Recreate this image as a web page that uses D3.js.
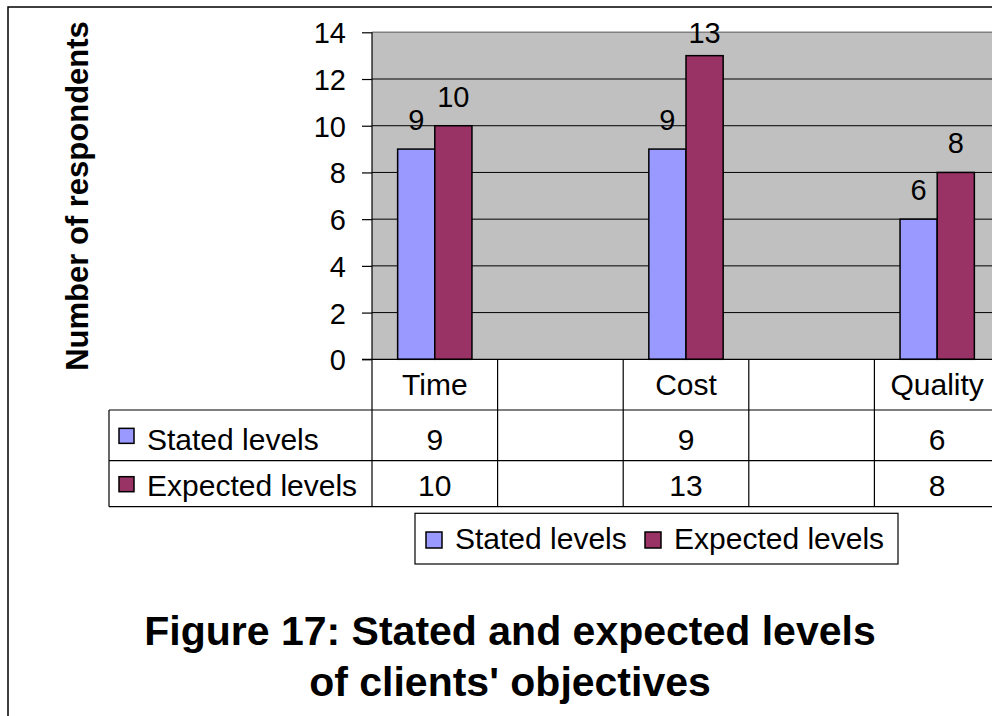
<!DOCTYPE html>
<html>
<head>
<meta charset="utf-8">
<script src="https://cdn.jsdelivr.net/npm/d3@7"></script>
<style>
  html, body { margin: 0; padding: 0; background: #fff; overflow: hidden; }
  svg { display: block; }
  text { font-family: "Liberation Sans", Arial, Helvetica, sans-serif; fill: #000; }
</style>
</head>
<body>
<svg id="chart" width="992" height="716"></svg>
<script>
// Survey counts per objective (blank slots are empty spacer columns)
const categories = ["Time", "", "Cost", "", "Quality"];
const statedLevels = [9, null, 9, null, 6];
const expectedLevels = [10, null, 13, null, 8];
const seriesNames = ["Stated levels", "Expected levels"];
const seriesColors = ["#9999FF", "#993366"];
const yTickValues = [0, 2, 4, 6, 8, 10, 12, 14];
const yAxisTitle = "Number of respondents";
const titleLines = ["Figure 17: Stated and expected levels", "of clients' objectives"];

const series = [statedLevels, expectedLevels];

const svg = d3.select("#chart");

// Outer chart frame (runs past the right and bottom edges)
svg.append("rect")
  .attr("x", 8).attr("y", 7)
  .attr("width", 1200).attr("height", 900)
  .attr("fill", "#fff").attr("stroke", "#000").attr("stroke-width", 1.5);

const plot = { left: 372, top: 32.3, bottom: 359.3, colW: 125.6 };
const plotRight = plot.left + plot.colW * categories.length;

const x = d3.scaleBand()
  .domain(d3.range(categories.length))
  .range([plot.left, plotRight])
  .paddingInner(0).paddingOuter(0);

const xInner = d3.scaleBand()
  .domain(d3.range(series.length))
  .range([0, x.bandwidth()])
  .paddingInner(0).paddingOuter(0.69);

const y = d3.scaleLinear().domain([0, 14]).range([plot.bottom, plot.top]);

// Plot background
svg.append("rect")
  .attr("x", plot.left).attr("y", y(14))
  .attr("width", plotRight - plot.left).attr("height", y(0) - y(14))
  .attr("fill", "#C0C0C0");

// Top border of the plot area
svg.append("line")
  .attr("x1", plot.left).attr("x2", plotRight)
  .attr("y1", y(14)).attr("y2", y(14))
  .attr("stroke", "#808080").attr("stroke-width", 1.5);

// Horizontal gridlines
svg.append("g").selectAll("line")
  .data(yTickValues.filter(v => v > 0 && v < 14))
  .join("line")
  .attr("x1", plot.left).attr("x2", plotRight)
  .attr("y1", d => y(d)).attr("y2", d => y(d))
  .attr("stroke", "#000").attr("stroke-width", 1);

// Bars
const groups = svg.append("g").selectAll("g")
  .data(categories.map((c, i) => i))
  .join("g")
  .attr("transform", i => `translate(${x(i)},0)`);

groups.selectAll("rect")
  .data(i => series.map((s, k) => ({ k, v: s[i] })).filter(d => d.v != null))
  .join("rect")
  .attr("x", d => xInner(d.k))
  .attr("y", d => y(d.v))
  .attr("width", xInner.bandwidth())
  .attr("height", d => y(0) - y(d.v))
  .attr("fill", d => seriesColors[d.k])
  .attr("stroke", "#000").attr("stroke-width", 1.5);

// Value labels above bars
groups.selectAll("text")
  .data(i => series.map((s, k) => ({ k, v: s[i] })).filter(d => d.v != null))
  .join("text")
  .attr("x", d => xInner(d.k) + xInner.bandwidth() / 2)
  .attr("y", d => Math.max(y(d.v) - 19, 43))
  .attr("text-anchor", "middle")
  .attr("font-size", 29)
  .text(d => d.v);

// Y axis
const yAxis = d3.axisLeft(y)
  .tickValues(yTickValues)
  .tickSize(10)
  .tickPadding(16)
  .tickFormat(d3.format("d"));

const axisG = svg.append("g")
  .attr("transform", `translate(${plot.left},0)`)
  .call(yAxis);
axisG.select(".domain").remove();
axisG.selectAll(".tick line").attr("stroke", "#000").attr("stroke-width", 1.2);
axisG.selectAll(".tick text")
  .attr("font-size", 29)
  .attr("font-family", "'Liberation Sans', Arial, sans-serif")
  .attr("fill", "#000")
  .attr("dy", "0.36em");

// Data table under the plot
const table = { rowTop: 359.3, row1: 410, row2: 460.7, bottom: 506.7, left: 109 };

const lines = svg.append("g").attr("stroke", "#000").attr("stroke-width", 1.2);
// vertical axis line continuing through the table
lines.append("line")
  .attr("x1", plot.left).attr("x2", plot.left)
  .attr("y1", y(14)).attr("y2", table.bottom);
// column dividers
lines.selectAll(".col")
  .data(d3.range(1, categories.length + 1))
  .join("line")
  .attr("class", "col")
  .attr("x1", i => plot.left + i * x.step()).attr("x2", i => plot.left + i * x.step())
  .attr("y1", table.rowTop).attr("y2", table.bottom);
// category axis line
lines.append("line")
  .attr("x1", plot.left - 10).attr("x2", plotRight)
  .attr("y1", y(0)).attr("y2", y(0));
// row lines
lines.selectAll(".row")
  .data([table.row1, table.row2, table.bottom])
  .join("line")
  .attr("class", "row")
  .attr("x1", table.left).attr("x2", plotRight)
  .attr("y1", d => d).attr("y2", d => d);
// left border of series rows
lines.append("line")
  .attr("x1", table.left).attr("x2", table.left)
  .attr("y1", table.row1).attr("y2", table.bottom);

// Category names
svg.append("g").selectAll("text")
  .data(categories.map((c, i) => ({ c, i })))
  .join("text")
  .attr("x", d => x(d.i) + x.bandwidth() / 2)
  .attr("y", 395)
  .attr("text-anchor", "middle")
  .attr("font-size", 30)
  .text(d => d.c);

// Series rows
const rowBaselines = [449.5, 496];
const rowCenters = [(table.row1 + table.row2) / 2, (table.row2 + table.bottom) / 2];
series.forEach((s, k) => {
  const g = svg.append("g");
  g.append("rect")
    .attr("x", 119).attr("y", rowCenters[k] - 7)
    .attr("width", 15).attr("height", 15)
    .attr("fill", seriesColors[k]).attr("stroke", "#000").attr("stroke-width", 1.5);
  g.append("text")
    .attr("x", 147).attr("y", rowBaselines[k])
    .attr("font-size", 30)
    .text(seriesNames[k]);
  g.selectAll(".val")
    .data(s.map((v, i) => ({ v, i })).filter(d => d.v != null))
    .join("text")
    .attr("class", "val")
    .attr("x", d => x(d.i) + x.bandwidth() / 2)
    .attr("y", rowBaselines[k])
    .attr("text-anchor", "middle")
    .attr("font-size", 30)
    .text(d => d.v);
});

// Legend
const legend = svg.append("g");
legend.append("rect")
  .attr("x", 415).attr("y", 513.3)
  .attr("width", 483).attr("height", 50.7)
  .attr("fill", "#fff").attr("stroke", "#000").attr("stroke-width", 1.2);
const legendItems = [{ kx: 426, tx: 455 }, { kx: 645, tx: 674 }];
legendItems.forEach((it, k) => {
  legend.append("rect")
    .attr("x", it.kx).attr("y", 532)
    .attr("width", 16).attr("height", 16)
    .attr("fill", seriesColors[k]).attr("stroke", "#000").attr("stroke-width", 1.5);
  legend.append("text")
    .attr("x", it.tx).attr("y", 549)
    .attr("font-size", 30)
    .text(seriesNames[k]);
});

// Y axis title
svg.append("text")
  .attr("transform", "translate(88,196) rotate(-90)")
  .attr("text-anchor", "middle")
  .attr("font-size", 31)
  .attr("font-weight", "bold")
  .text(yAxisTitle);

// Figure caption
svg.append("g").selectAll("text")
  .data(titleLines)
  .join("text")
  .attr("x", 510)
  .attr("y", (d, i) => 645 + i * 51)
  .attr("text-anchor", "middle")
  .attr("font-size", 41)
  .attr("font-weight", "bold")
  .text(d => d);
</script>
</body>
</html>
